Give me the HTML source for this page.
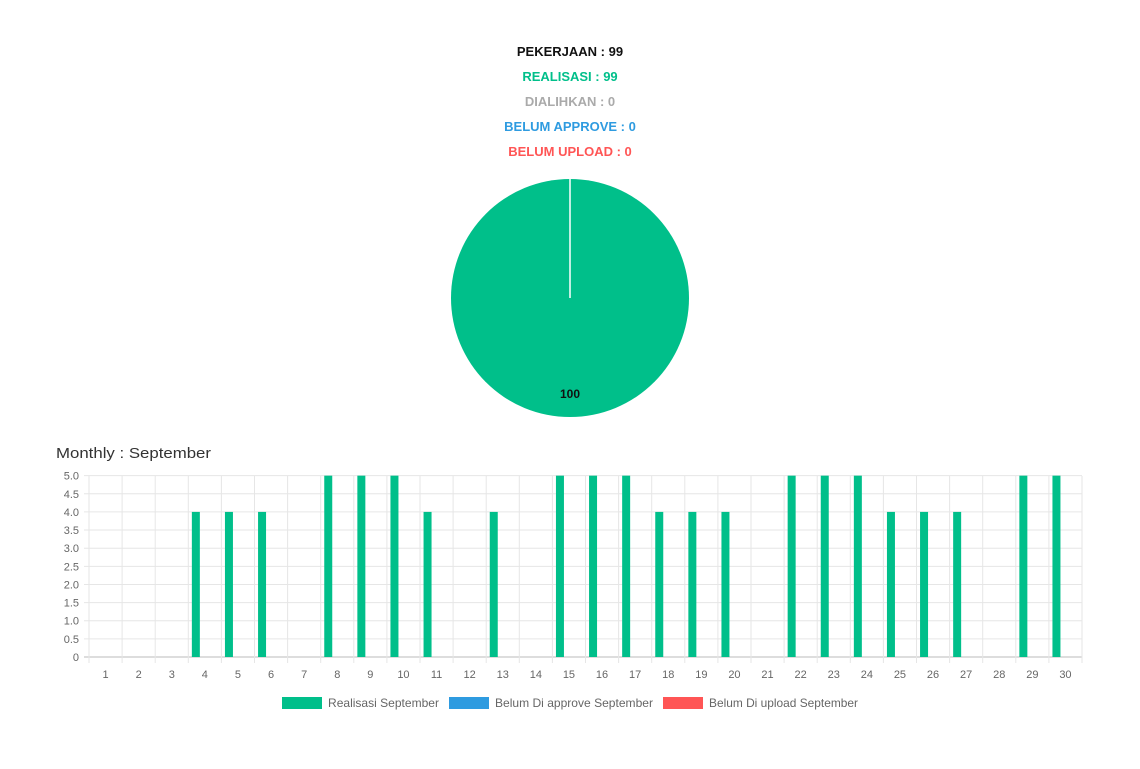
<!DOCTYPE html>
<html><head><meta charset="utf-8"><style>
body{margin:0;background:#fff;width:1140px;height:764px;overflow:hidden;font-family:"Liberation Sans",sans-serif}
</style></head><body>
<svg width="1140" height="764" xmlns="http://www.w3.org/2000/svg" font-family="Liberation Sans, sans-serif">
<g font-weight="bold" font-size="13" text-anchor="middle">
<text x="570" y="56" fill="#111">PEKERJAAN : 99</text>
<text x="570" y="81" fill="#00bf8a">REALISASI : 99</text>
<text x="570" y="106" fill="#aaa">DIALIHKAN : 0</text>
<text x="570" y="131" fill="#2e9be0">BELUM APPROVE : 0</text>
<text x="570" y="156" fill="#ff5555">BELUM UPLOAD : 0</text>
</g>
<circle cx="570" cy="298" r="119" fill="#00bf8a"/>
<line x1="570" y1="179" x2="570" y2="298" stroke="#fff" stroke-width="1.5"/>
<text x="570" y="398" font-size="12" font-weight="bold" text-anchor="middle" fill="#111">100</text>
<text x="56" y="458" font-size="15" fill="#333" textLength="155" lengthAdjust="spacingAndGlyphs">Monthly : September</text>
<g id="grid" stroke="#e6e6e6" stroke-width="1"></g>
<g id="bars" fill="#00bf8a"></g>
<g id="labels" font-size="11" fill="#666"></g>
<rect x="282" y="697" width="40" height="12" fill="#00bf8a"/>
<text x="328" y="707" font-size="12" fill="#666" textLength="111" lengthAdjust="spacingAndGlyphs">Realisasi September</text>
<rect x="449" y="697" width="40" height="12" fill="#2e9be0"/>
<text x="495" y="707" font-size="12" fill="#666" textLength="158" lengthAdjust="spacingAndGlyphs">Belum Di approve September</text>
<rect x="663" y="697" width="40" height="12" fill="#ff5555"/>
<text x="709" y="707" font-size="12" fill="#666" textLength="149" lengthAdjust="spacingAndGlyphs">Belum Di upload September</text>
</svg>
<script>
var ns="http://www.w3.org/2000/svg";
function el(p,t,a,txt){var e=document.createElementNS(ns,t);for(var k in a)e.setAttribute(k,a[k]);if(txt)e.textContent=txt;document.getElementById(p).appendChild(e);}
var x0=89,step=33.1,y0=657,ys=36.27;
for(var i=0;i<=10;i++){var y=y0-i*ys/2;el("grid","line",{x1:84,y1:y,x2:1082,y2:y,stroke:i==0?"#bbb":"#e6e6e6"});
el("labels","text",{x:79,y:y+4,"text-anchor":"end"},(i==0?"0":(i/2).toFixed(1)));}
for(var i=0;i<=30;i++){var x=x0+i*step;el("grid","line",{x1:x,y1:476,x2:x,y2:663});}
for(var i=1;i<=30;i++)el("labels","text",{x:x0+(i-0.5)*step,y:678,"text-anchor":"middle"},String(i));
var v={4:4,5:4,6:4,8:5,9:5,10:5,11:4,13:4,15:5,16:5,17:5,18:4,19:4,20:4,22:5,23:5,24:5,25:4,26:4,27:4,29:5,30:5};
for(var d in v){var c=x0+(d-0.5)*step;el("bars","rect",{x:c-13,y:y0-v[d]*ys,width:8,height:v[d]*ys});}
</script>
</body></html>
